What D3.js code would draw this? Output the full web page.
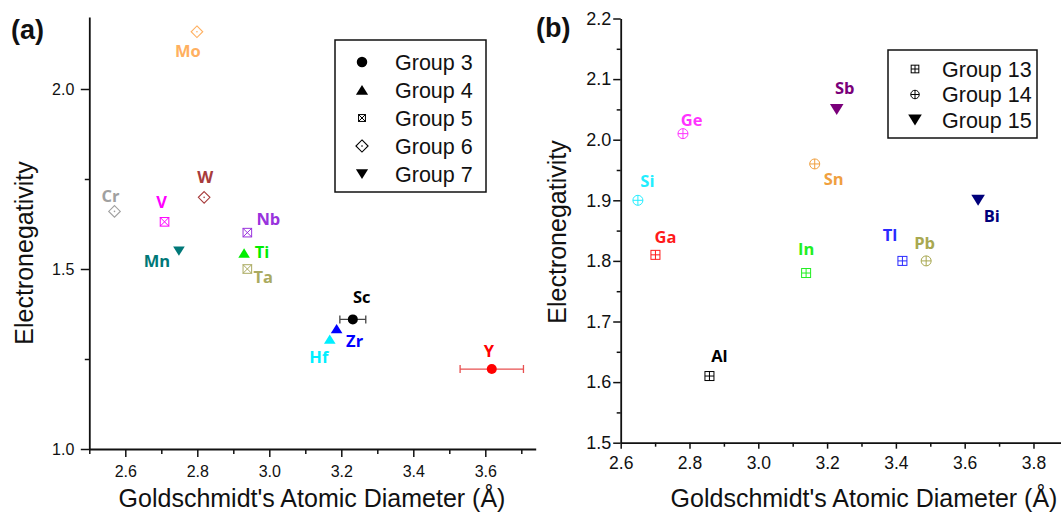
<!DOCTYPE html>
<html><head><meta charset="utf-8">
<script src="https://cdn.jsdelivr.net/npm/d3@7"></script>
<style>
body{margin:0;background:#fff}
svg{display:block}
text{font-family:"Liberation Sans",Arial,sans-serif}
.el{font-family:"Open Sans",sans-serif;font-weight:700;font-size:16.5px}
</style>
</head><body>
<svg id="c" width="1061" height="519"></svg>
<script>
// ---------- Panel (a): transition metals ----------
const elementsA = ["Sc","Y","Ti","Zr","Hf","V","Nb","Ta","Cr","Mo","W","Mn"];
const groupA = [3,3,4,4,4,5,5,5,6,6,6,7];
const diameterA = [3.232,3.618,2.93,3.187,3.168,2.709,2.939,2.939,2.57,2.799,2.819,2.749];
const electronegA = [1.36,1.222,1.544,1.334,1.305,1.631,1.601,1.50,1.66,2.159,1.699,1.55];
const errorA = [0.036,0.088,0,0,0,0,0,0,0,0,0,0];
const legendGroupsA = [3,4,5,6,7];
const yTicksA = [1.0,1.5,2.0];
const yMinorA = [1.25,1.75];
const xTicksA = [2.6,2.8,3.0,3.2,3.4,3.6];
const xMinorA = [2.5,2.7,2.9,3.1,3.3,3.5,3.7];

// ---------- Panel (b): main-group elements ----------
const elementsB = ["Al","Ga","In","Tl","Si","Ge","Sn","Pb","Sb","Bi"];
const groupB = [13,13,13,13,14,14,14,14,15,15];
const diameterB = [2.858,2.701,3.139,3.419,2.65,2.781,3.164,3.488,3.228,3.639];
const electronegB = [1.61,1.81,1.78,1.80,1.90,2.01,1.96,1.80,2.05,1.90];
const legendGroupsB = [13,14,15];
const yTicksB = [1.5,1.6,1.7,1.8,1.9,2.0,2.1,2.2];
const yMinorB = [1.55,1.65,1.75,1.85,1.95,2.05,2.15];
const xTicksB = [2.6,2.8,3.0,3.2,3.4,3.6,3.8];
const xMinorB = [2.7,2.9,3.1,3.3,3.5,3.7];

// ---------- styling ----------
const colorA = {Sc:"#000000",Y:"#ff0000",Ti:"#00ee00",Zr:"#0000ff",Hf:"#00eeff",V:"#ff00ff",
  Nb:"#9933dd",Ta:"#aaaa60",Cr:"#a0a0a0",Mo:"#ffb060",W:"#a83c3c",Mn:"#007878"};
const errColorA = {Sc:"#444444",Y:"#e85050"};
const labelOffA = {Sc:[9,-16],Y:[-3,-12],Ti:[18,5],Zr:[18,18.6],Hf:[-11,24],V:[-3,-13.4],
  Nb:[21,-7.7],Ta:[16,14.3],Cr:[-4,-9.4],Mo:[-9,25.6],W:[1,-14.6],Mn:[-22,16]};
const colorB = {Al:"#000000",Ga:"#ff1a1a",In:"#22ee22",Tl:"#2a2aff",Si:"#22eeff",Ge:"#ff33ff",
  Sn:"#f0a040",Pb:"#a8a850",Sb:"#7a007a",Bi:"#00007a"};
const labelOffB = {Al:[10,-14],Ga:[10,-11.7],In:[0,-18.5],Tl:[-12.5,-20],Si:[9.5,-13.7],
  Ge:[8.6,-7.6],Sn:[19,21],Pb:[-1.6,-12.3],Sb:[8,-15],Bi:[13.6,22]};
const markerOf = {3:"circle",4:"triUp",5:"boxX",6:"diamond",7:"triDown",13:"boxPlus",14:"circlePlus",15:"triDownBig"};

const svg = d3.select("#c");

function marker(g, type, color, s) {
  s = s || 1;
  if (type === "circle") {
    g.append("circle").attr("r", 5*s).attr("fill", color);
  } else if (type === "triUp") {
    g.append("path").attr("d", `M0,${-4.8*s}L${5.8*s},${4.6*s}L${-5.8*s},${4.6*s}Z`).attr("fill", color);
  } else if (type === "triDown") {
    g.append("path").attr("d", `M0,${4.8*s}L${5.8*s},${-4.6*s}L${-5.8*s},${-4.6*s}Z`).attr("fill", color);
  } else if (type === "triDownBig") {
    g.append("path").attr("d", `M0,${5.5*s}L${6.8*s},${-5.5*s}L${-6.8*s},${-5.5*s}Z`).attr("fill", color);
  } else if (type === "boxX") {
    const h = 4.3*s;
    g.append("rect").attr("x",-h).attr("y",-h).attr("width",2*h).attr("height",2*h)
      .attr("fill","#fff").attr("stroke",color).attr("stroke-width",1);
    g.append("path").attr("d",`M${-h},${-h}L${h},${h}M${h},${-h}L${-h},${h}`).attr("stroke",color).attr("stroke-width",1);
  } else if (type === "diamond") {
    const h = 5.8*s;
    g.append("path").attr("d",`M0,${-h}L${h},0L0,${h}L${-h},0Z`).attr("fill","#fff").attr("stroke",color).attr("stroke-width",1.1);
    g.append("circle").attr("r",0.8).attr("fill",color);
  } else if (type === "boxPlus") {
    const h = 4.5*s;
    g.append("rect").attr("x",-h).attr("y",-h).attr("width",2*h).attr("height",2*h)
      .attr("fill","#fff").attr("stroke",color).attr("stroke-width",1);
    g.append("path").attr("d",`M${-h},0L${h},0M0,${-h}L0,${h}`).attr("stroke",color).attr("stroke-width",1);
  } else if (type === "circlePlus") {
    const r = 5*s;
    g.append("circle").attr("r",r).attr("fill","#fff").attr("stroke",color).attr("stroke-width",1);
    g.append("path").attr("d",`M${-r},0L${r},0M0,${-r}L0,${r}`).attr("stroke",color).attr("stroke-width",1);
  }
}

function axes(x, y, cfg) {
  const [x0] = x.range(); const [y0] = y.range();
  svg.append("g").attr("transform",`translate(0,${y0})`)
    .call(d3.axisBottom(x).tickValues(cfg.xMinor).tickSize(cfg.xMinorLen).tickSizeOuter(0).tickFormat(""))
    .call(g=>g.select(".domain").remove());
  svg.append("g").attr("transform",`translate(${x0},0)`)
    .call(d3.axisLeft(y).tickValues(cfg.yMinor).tickSize(cfg.yMinorLen).tickSizeOuter(0).tickFormat(""))
    .call(g=>g.select(".domain").remove());
  const gx = svg.append("g").attr("transform",`translate(0,${y0})`)
    .call(d3.axisBottom(x).tickValues(cfg.xTicks).tickSize(cfg.xLen).tickPadding(cfg.xPad).tickSizeOuter(0).tickFormat(d3.format(".1f")));
  const gy = svg.append("g").attr("transform",`translate(${x0},0)`)
    .call(d3.axisLeft(y).tickValues(cfg.yTicks).tickSize(cfg.yLen).tickPadding(cfg.yPad).tickSizeOuter(0).tickFormat(d3.format(".1f")));
  gx.selectAll("text").attr("font-size",cfg.xFont).attr("fill","#111").attr("font-family","Liberation Sans, Arial, sans-serif");
  gy.selectAll("text").attr("font-size",cfg.yFont).attr("fill","#111").attr("font-family","Liberation Sans, Arial, sans-serif");
  svg.selectAll(".domain").attr("stroke","#111").attr("stroke-width",1.8);
  svg.selectAll(".tick line").attr("stroke","#111").attr("stroke-width",1.5);
}

// ================= Panel (a) =================
const xA = d3.scaleLinear().domain([2.5,3.74]).range([89.3,535.7]);
const yA = d3.scaleLinear().domain([1.0,2.2]).range([449,17]);
axes(xA, yA, {xMinor:xMinorA,yMinor:yMinorA,xTicks:xTicksA,yTicks:yTicksA,
  xMinorLen:5,yMinorLen:4.5,xLen:8,yLen:8.5,xPad:9,yPad:6.5,xFont:16,yFont:16});

svg.append("text").attr("x",312).attr("y",507).attr("text-anchor","middle").attr("font-size",25).attr("fill","#111")
  .text("Goldschmidt's Atomic Diameter (Å)");
svg.append("text").attr("transform","translate(33,253) rotate(-90)").attr("text-anchor","middle").attr("font-size",25).attr("fill","#111")
  .text("Electronegativity");
svg.append("text").attr("x",11).attr("y",39).attr("font-family","Open Sans, sans-serif").attr("font-weight",700).attr("font-size",27).attr("fill","#111").text("(a)");

const gA = svg.append("g");
elementsA.forEach((el,i) => {
  const cx = xA(diameterA[i]), cy = yA(electronegA[i]);
  if (errorA[i] > 0) {
    const x1 = xA(diameterA[i]-errorA[i]), x2 = xA(diameterA[i]+errorA[i]);
    const c = errColorA[el];
    gA.append("path").attr("d",`M${x1},${cy}L${x2},${cy}M${x1},${cy-4}L${x1},${cy+4}M${x2},${cy-4}L${x2},${cy+4}`)
      .attr("stroke",c).attr("stroke-width",1.3).attr("fill","none");
  }
  const m = gA.append("g").attr("transform",`translate(${cx},${cy})`);
  marker(m, markerOf[groupA[i]], colorA[el]);
  const off = labelOffA[el];
  gA.append("text").attr("class","el").attr("x",cx+off[0]).attr("y",cy+off[1]).attr("text-anchor","middle")
    .attr("fill",colorA[el]).text(el);
});

// legend (a)
const legA = svg.append("g");
legA.append("rect").attr("x",335).attr("y",40).attr("width",151).attr("height",152).attr("fill","#fff").attr("stroke","#111").attr("stroke-width",1.5);
legendGroupsA.forEach((gr,i) => {
  const yy = 62 + i*28;
  const m = legA.append("g").attr("transform",`translate(362,${yy})`);
  marker(m, markerOf[gr], "#000", gr===5 ? 0.8 : 1.05);
  legA.append("text").attr("x",395).attr("y",yy).attr("dy","0.36em").attr("font-size",21.5).attr("fill","#111").text("Group " + gr);
});

// ================= Panel (b) =================
const xB = d3.scaleLinear().domain([2.6,3.88]).range([620.7,1061]);
const yB = d3.scaleLinear().domain([1.5,2.2]).range([442.7,18.5]);
axes(xB, yB, {xMinor:xMinorB,yMinor:yMinorB,xTicks:xTicksB,yTicks:yTicksB,
  xMinorLen:4,yMinorLen:4,xLen:6,yLen:7.5,xPad:8,yPad:2,xFont:17.5,yFont:18});

svg.append("text").attr("x",864).attr("y",507).attr("text-anchor","middle").attr("font-size",25).attr("fill","#111")
  .text("Goldschmidt's Atomic Diameter (Å)");
svg.append("text").attr("transform","translate(566,232) rotate(-90)").attr("text-anchor","middle").attr("font-size",25).attr("fill","#111")
  .text("Electronegativity");
svg.append("text").attr("x",536).attr("y",37).attr("font-family","Open Sans, sans-serif").attr("font-weight",700).attr("font-size",27).attr("fill","#111").text("(b)");

const gB = svg.append("g");
elementsB.forEach((el,i) => {
  const cx = xB(diameterB[i]), cy = yB(electronegB[i]);
  const m = gB.append("g").attr("transform",`translate(${cx},${cy})`);
  marker(m, markerOf[groupB[i]], colorB[el]);
  const off = labelOffB[el];
  gB.append("text").attr("class","el").attr("x",cx+off[0]).attr("y",cy+off[1]).attr("text-anchor","middle")
    .attr("fill",colorB[el]).text(el);
});

// legend (b)
const legB = svg.append("g");
legB.append("rect").attr("x",888).attr("y",50).attr("width",149).attr("height",88).attr("fill","#fff").attr("stroke","#111").attr("stroke-width",1.5);
legendGroupsB.forEach((gr,i) => {
  const yy = 69 + i*25.5;
  const m = legB.append("g").attr("transform",`translate(915,${yy})`);
  marker(m, markerOf[gr], "#000", gr===15 ? 1 : 0.85);
  legB.append("text").attr("x",942).attr("y",yy).attr("dy","0.36em").attr("font-size",21.5).attr("fill","#111").text("Group " + gr);
});
</script>
</body></html>
